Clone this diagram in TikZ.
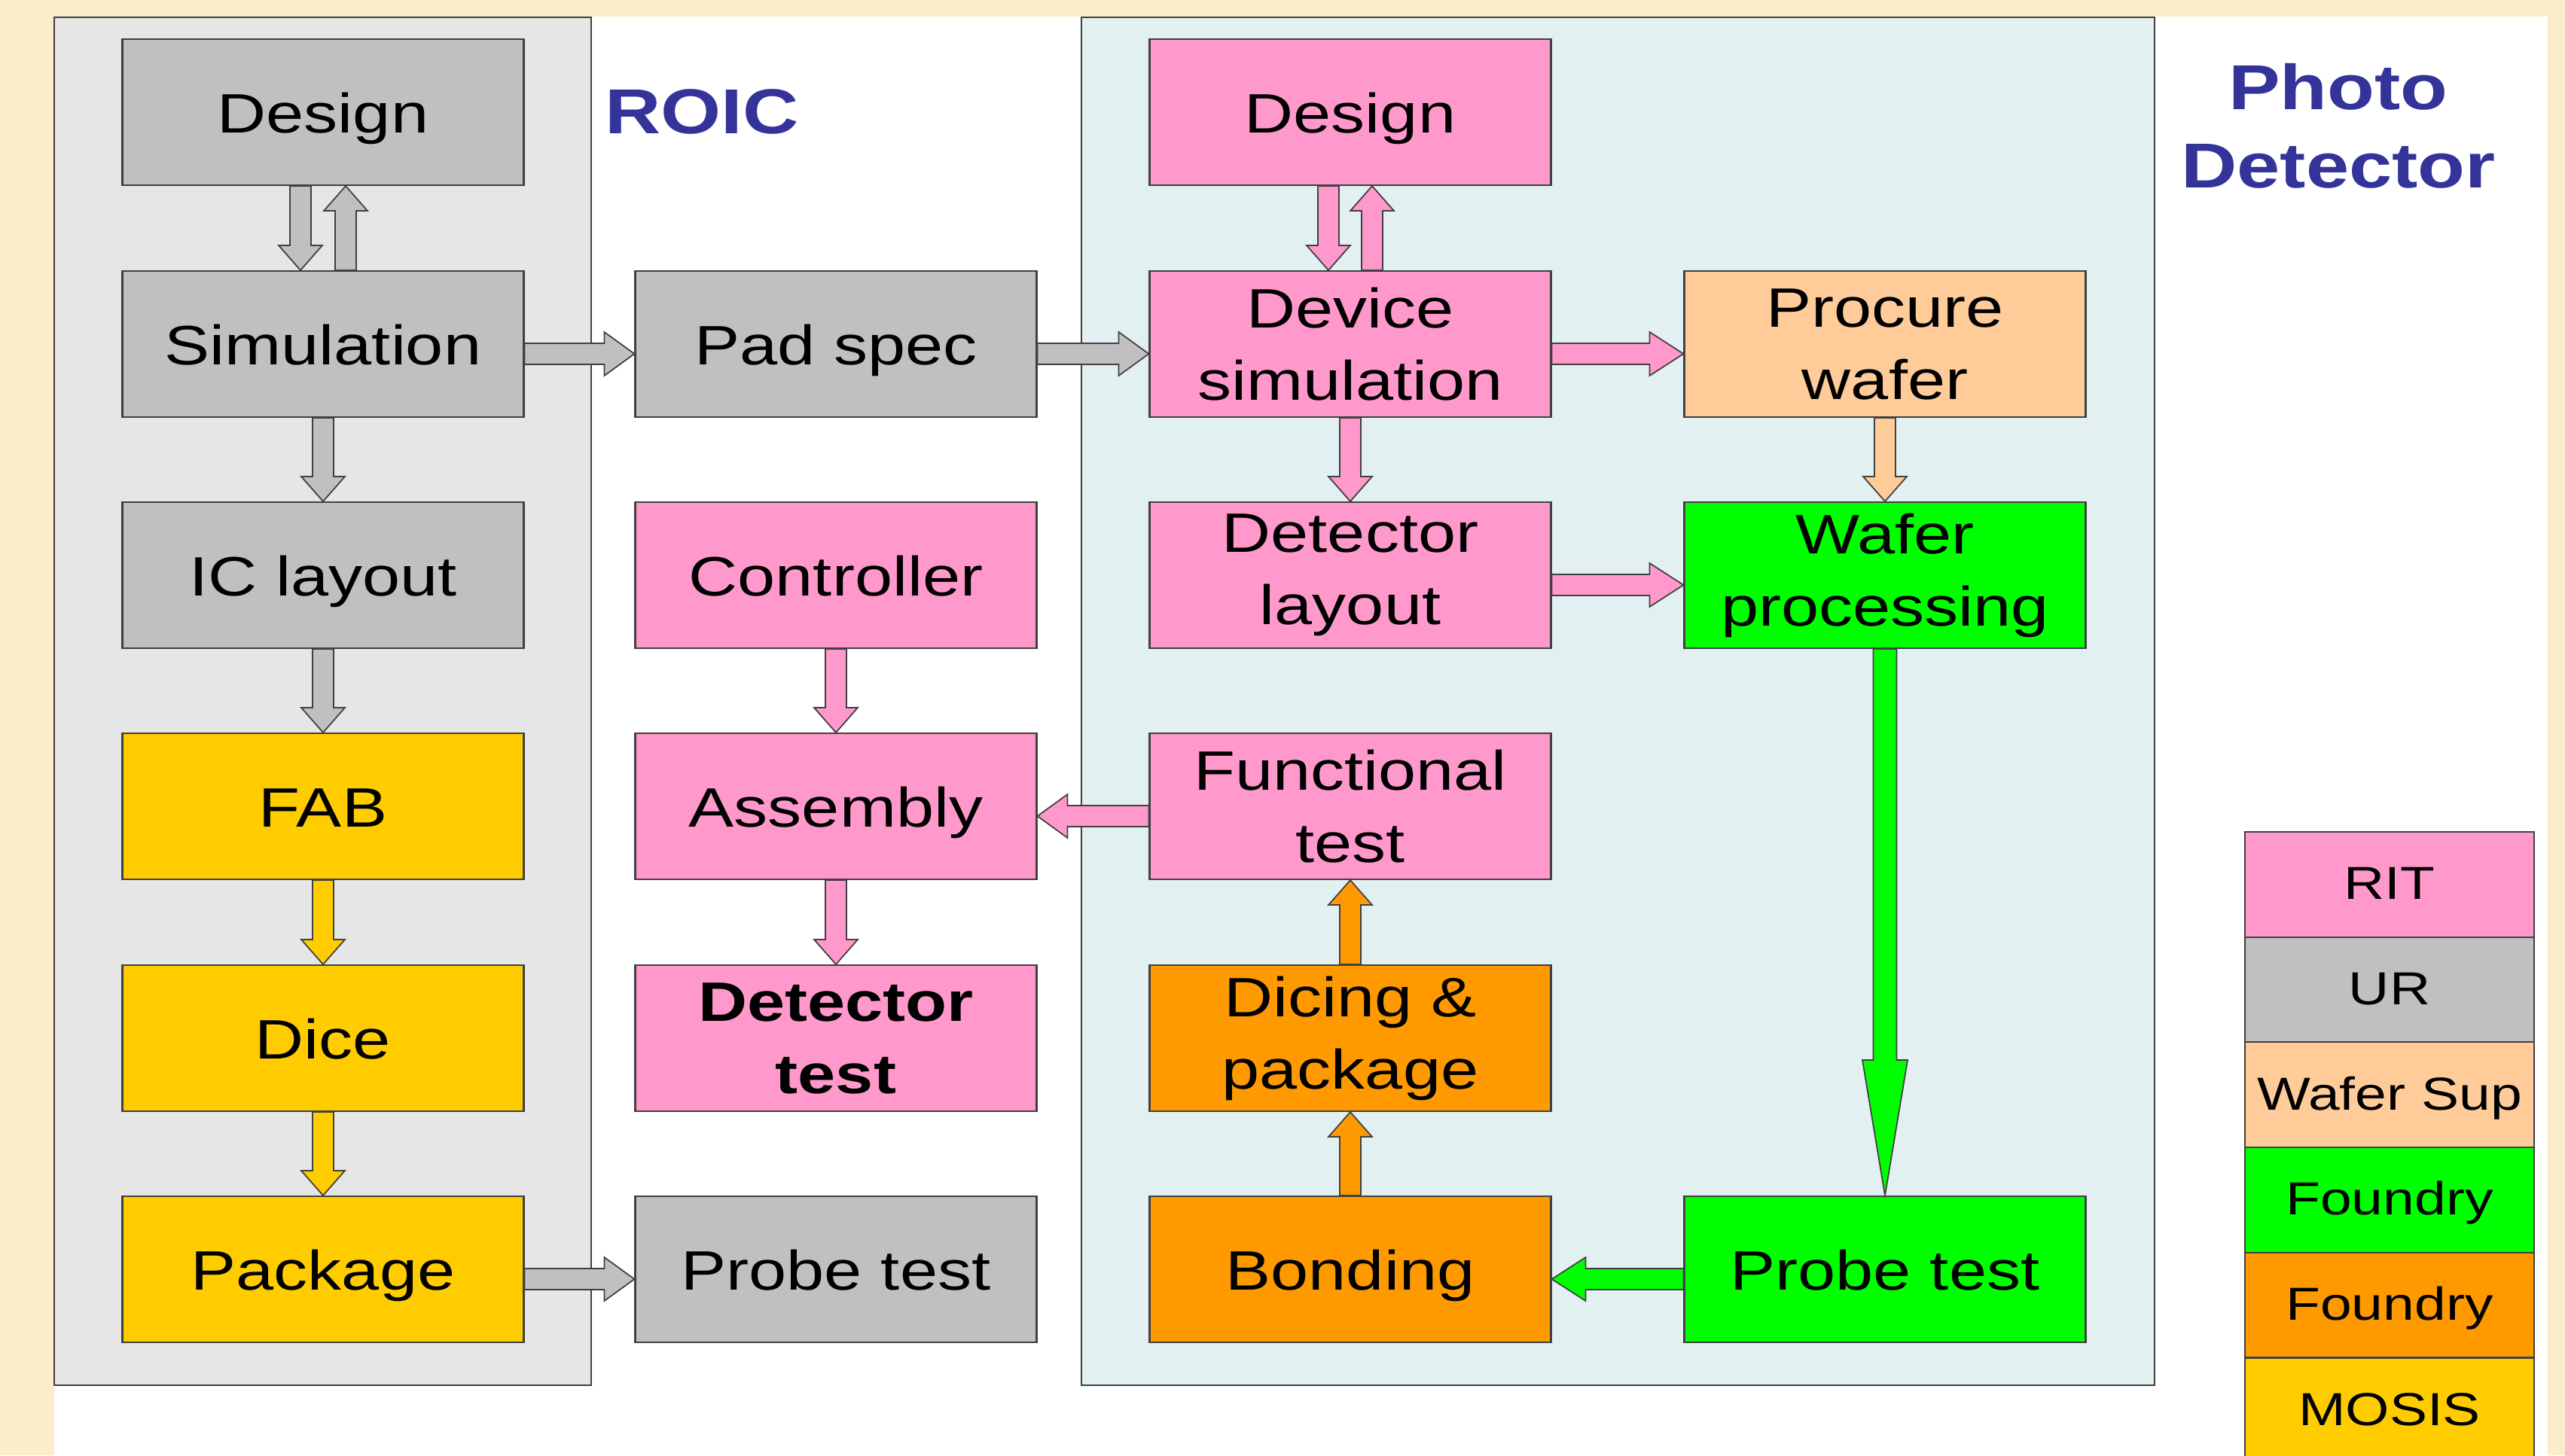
\documentclass[tikz,border=0pt]{standalone}
\usepackage{fontspec}
\setmainfont{Liberation Sans}[FakeStretch=1.22]
\usetikzlibrary{calc,positioning}

% partner colours
\definecolor{ritpink}{RGB}{255,153,204}
\definecolor{urgray}{RGB}{192,192,192}
\definecolor{wafersup}{RGB}{255,204,153}
\definecolor{fndgreen}{RGB}{0,255,0}
\definecolor{fndorange}{RGB}{255,153,0}
\definecolor{mosis}{RGB}{255,204,0}
% panels and page
\definecolor{roicbg}{RGB}{230,230,230}
\definecolor{pdbg}{RGB}{226,240,241}
\definecolor{parch}{RGB}{251,236,202}
\definecolor{headblue}{RGB}{51,51,153}
\definecolor{edge}{RGB}{64,64,64}

% block arrow sizes (half shaft, half head, head length)
\newcommand{\arrshaft}{0.14cm}
\newcommand{\arrhead}{0.29cm}
\newcommand{\arrlen}{0.33cm}
\newcommand{\boxfont}{\fontsize{21}{27.3}\selectfont}

\begin{document}
\begin{tikzpicture}
[box/.style={rectangle,draw=edge,line width=0.6pt,minimum width=5.33cm,%
   minimum height=1.94cm,inner sep=0pt,align=center,font=\boxfont},%
 oneline/.style={box,text height=0.62cm,text depth=0.08cm},%
 keycell/.style={rectangle,draw=edge,line width=0.6pt,minimum width=3.84cm,%
   minimum height=1.397cm,inner sep=0pt,outer sep=0pt,%
   text height=0.5cm,text depth=0.1cm,font=\fontsize{17.5}{21}\selectfont},%
 heading/.style={text=headblue,align=center,%
   font=\fontsize{24}{29.6}\selectfont\bfseries},%
 headlen/.code={\def\arrlen{#1}},%
 headwid/.code={\def\arrhead{#1}},%
 shaftwid/.code={\def\arrshaft{#1}},%
 barrow/.style={draw=edge,line width=0.5pt,fill=#1,to path={%
   ($(\tikztostart)!\arrshaft!90:(\tikztotarget)$)
   -- ($(\tikztotarget)!\arrlen!(\tikztostart)!\arrshaft!90:(\tikztotarget)$)
   -- ($(\tikztotarget)!\arrlen!(\tikztostart)!\arrhead!90:(\tikztotarget)$)
   -- (\tikztotarget)
   -- ($(\tikztotarget)!\arrlen!(\tikztostart)!\arrhead!-90:(\tikztotarget)$)
   -- ($(\tikztotarget)!\arrlen!(\tikztostart)!\arrshaft!-90:(\tikztotarget)$)
   -- ($(\tikztostart)!\arrshaft!-90:(\tikztotarget)$)
   -- cycle}}]
\useasboundingbox (0,0) rectangle (34.06,-19.33);
% page and the two panels
\fill[parch] (0,0) rectangle (34.06,-19.33);
\fill[white] (0.72,-0.22) rectangle (33.83,-19.40);
\filldraw[fill=roicbg,draw=edge,line width=0.6pt] (0.72,-0.23) rectangle (7.85,-18.40);
\filldraw[fill=pdbg,draw=edge,line width=0.6pt] (14.36,-0.23) rectangle (28.61,-18.40);
\node[heading] (roic) at (9.32,-1.48) {ROIC};
\node[heading] (pd) at (31.05,-1.67) {Photo\\Detector};

% ROIC flow
\node[oneline,fill=urgray] (des1) at (4.29,-1.49) {Design};
\node[oneline,fill=urgray] (sim1) at (4.29,-4.57) {Simulation};
\node[oneline,fill=urgray] (lay1) at (4.29,-7.64) {IC layout};
\node[oneline,fill=mosis] (fab) at (4.29,-10.71) {FAB};
\node[oneline,fill=mosis] (dice) at (4.29,-13.79) {Dice};
\node[oneline,fill=mosis] (pkg) at (4.29,-16.86) {Package};

% middle column
\node[oneline,fill=urgray] (pad) at (11.10,-4.57) {Pad spec};
\node[oneline,fill=ritpink] (ctrl) at (11.10,-7.64) {Controller};
\node[oneline,fill=ritpink] (asm) at (11.10,-10.71) {Assembly};
\node[box,fill=ritpink,font=\boxfont\bfseries] (dtest) at (11.10,-13.79) {Detector\\test};
\node[oneline,fill=urgray] (probe1) at (11.10,-16.86) {Probe test};

% photo detector flow
\node[oneline,fill=ritpink] (des2) at (17.93,-1.49) {Design};
\node[box,fill=ritpink] (dsim) at (17.93,-4.57) {Device\\simulation};
\node[box,fill=ritpink] (dlay) at (17.93,-7.64) {Detector\\layout};
\node[box,fill=ritpink] (ftest) at (17.93,-10.71) {Functional\\test};
\node[box,fill=fndorange] (dcpk) at (17.93,-13.79) {Dicing \&\\package};
\node[oneline,fill=fndorange] (bond) at (17.93,-16.86) {Bonding};
\node[box,fill=wafersup] (wafer) at (25.03,-4.57) {Procure\\wafer};
\node[box,fill=fndgreen] (wproc) at (25.03,-7.64) {Wafer\\processing};
\node[oneline,fill=fndgreen] (probe2) at (25.03,-16.86) {Probe test};

% legend
\node[keycell,fill=ritpink,anchor=north] (krit) at (31.73,-11.05) {RIT};
\node[keycell,fill=urgray,below=0pt of krit] (kur) {UR};
\node[keycell,fill=wafersup,below=0pt of kur] (ksup) {Wafer Sup};
\node[keycell,fill=fndgreen,below=0pt of ksup] (kfg) {Foundry};
\node[keycell,fill=fndorange,below=0pt of kfg] (kfo) {Foundry};
\node[keycell,fill=mosis,below=0pt of kfo] (kmos) {MOSIS};

% arrows, ROIC side
\draw[barrow=urgray] ([xshift=-3mm]des1.south) to ([xshift=-3mm]sim1.north);
\draw[barrow=urgray] ([xshift=3mm]sim1.north) to ([xshift=3mm]des1.south);
\draw[barrow=urgray] (sim1.south) to (lay1.north);
\draw[barrow=urgray] (lay1.south) to (fab.north);
\draw[barrow=mosis] (fab.south) to (dice.north);
\draw[barrow=mosis] (dice.south) to (pkg.north);
\draw[barrow=urgray,headlen=0.4cm] ([yshift=-1.3mm]sim1.east) to ([yshift=-1.3mm]pad.west);
\draw[barrow=urgray,headlen=0.4cm] ([yshift=-1.3mm]pkg.east) to ([yshift=-1.3mm]probe1.west);
\draw[barrow=urgray,headlen=0.4cm] ([yshift=-1.3mm]pad.east) to ([yshift=-1.3mm]dsim.west);
\draw[barrow=ritpink] (ctrl.south) to (asm.north);
\draw[barrow=ritpink] (asm.south) to (dtest.north);
\draw[barrow=ritpink,headlen=0.4cm] ([yshift=-1.3mm]ftest.west) to ([yshift=-1.3mm]asm.east);

% arrows, detector side
\draw[barrow=ritpink] ([xshift=-2.9mm]des2.south) to ([xshift=-2.9mm]dsim.north);
\draw[barrow=ritpink] ([xshift=2.9mm]dsim.north) to ([xshift=2.9mm]des2.south);
\draw[barrow=ritpink] (dsim.south) to (dlay.north);
\draw[barrow=ritpink,headlen=0.45cm] ([yshift=-1.3mm]dsim.east) to ([yshift=-1.3mm]wafer.west);
\draw[barrow=ritpink,headlen=0.45cm] ([yshift=-1.3mm]dlay.east) to ([yshift=-1.3mm]wproc.west);
\draw[barrow=wafersup] (wafer.south) to (wproc.north);
\draw[barrow=fndgreen,headlen=1.8cm,headwid=0.3cm,shaftwid=0.155cm] (wproc.south) to (probe2.north);
\draw[barrow=fndgreen,headlen=0.45cm] ([yshift=-1.3mm]probe2.west) to ([yshift=-1.3mm]bond.east);
\draw[barrow=fndorange] (bond.north) to (dcpk.south);
\draw[barrow=fndorange] (dcpk.north) to (ftest.south);
\end{tikzpicture}
\end{document}
